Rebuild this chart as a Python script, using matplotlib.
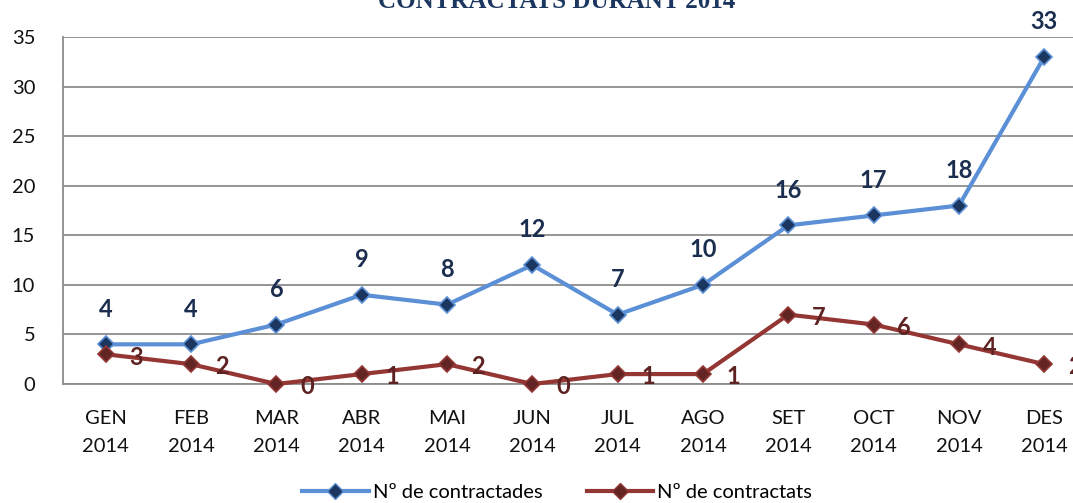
import matplotlib
matplotlib.use("Agg")
import matplotlib.pyplot as plt
from matplotlib.lines import Line2D

# ────── Data ──────

MONTHS = ["GEN", "FEB", "MAR", "ABR", "MAI", "JUN",
          "JUL", "AGO", "SET", "OCT", "NOV", "DES"]
YEAR = "2014"
CONTRACTADES = [4, 4, 6, 9, 8, 12, 7, 10, 16, 17, 18, 33]
CONTRACTATS = [3, 2, 0, 1, 2, 0, 1, 1, 7, 6, 4, 2]
LABEL_A = "Nº de contractades"
LABEL_B = "Nº de contractats"
TITLE = "CONTRACTATS DURANT 2014"

# ────── Colors ──────

BLUE_LINE = "#5B8FD6"
BLUE_MARK = "#1B365F"
BLUE_TEXT = "#1B2E4F"
RED_LINE = "#943634"
RED_MARK = "#632523"
RED_TEXT = "#5E2222"
GRID = "#8C8C8C"

FONT = "Lato"

fig = plt.figure(figsize=(10.73, 5.03), dpi=100)
ax = fig.add_axes([63 / 1073, 119 / 503, 1024 / 1073, 347 / 503])

xs = list(range(len(MONTHS)))

ax.plot(xs, CONTRACTADES, color=BLUE_LINE, lw=3, marker="D", ms=8,
        mfc=BLUE_MARK, mec=BLUE_LINE, mew=1.2, zorder=3, clip_on=False)
ax.plot(xs, CONTRACTATS, color=RED_LINE, lw=3, marker="D", ms=8,
        mfc=RED_MARK, mec=RED_LINE, mew=1.2, zorder=3, clip_on=False)

for x, v in zip(xs, CONTRACTADES):
    ax.annotate(str(v), (x, v), xytext=(0, 17), textcoords="offset points",
                ha="center", va="bottom", fontsize=17, fontweight="bold",
                color=BLUE_TEXT, family=FONT, annotation_clip=False)
for x, v in zip(xs, CONTRACTATS):
    ax.annotate(str(v), (x, v), xytext=(22, -2), textcoords="offset points",
                ha="center", va="center", fontsize=17, fontweight="bold",
                color=RED_TEXT, family=FONT, annotation_clip=False)

ax.set_xlim(-0.5, len(MONTHS) - 0.5)
ax.set_ylim(0, 35)
ax.set_yticks(range(0, 36, 5))
ax.yaxis.grid(True, color=GRID, lw=1.3)
ax.set_axisbelow(True)

ax.set_xticks(xs)
ax.set_xticklabels([f"{m}\n{YEAR}" for m in MONTHS], linespacing=1.75)
for lbl in ax.get_xticklabels() + ax.get_yticklabels():
    lbl.set_family(FONT)
    lbl.set_fontsize(14.5)
    lbl.set_color("#111111")

ax.tick_params(axis="both", length=0)
ax.tick_params(axis="x", pad=19)
ax.tick_params(axis="y", pad=20)
for s in ("top", "right"):
    ax.spines[s].set_visible(False)
ax.spines["left"].set_color(GRID)
ax.spines["left"].set_linewidth(1.3)
ax.spines["bottom"].set_color(GRID)
ax.spines["bottom"].set_linewidth(1.3)

handles = [
    Line2D([], [], color=BLUE_LINE, lw=3, marker="D", ms=8,
           mfc=BLUE_MARK, mec=BLUE_LINE, label=LABEL_A),
    Line2D([], [], color=RED_LINE, lw=3, marker="D", ms=8,
           mfc=RED_MARK, mec=RED_LINE, label=LABEL_B),
]
fig.legend(handles=handles, loc="lower center", bbox_to_anchor=(557 / 1073, 0),
           ncol=2, frameon=False, handlelength=3.3, columnspacing=2.2,
           handletextpad=0.2, borderpad=0, borderaxespad=0.1,
           prop={"family": FONT, "size": 14.5})

fig.text(557 / 1073, 1 - 8 / 503, TITLE, ha="center", va="baseline",
         fontsize=18, fontweight="bold", color="#1B365F",
         family="Liberation Serif")

fig.savefig("out.png", dpi=100)
